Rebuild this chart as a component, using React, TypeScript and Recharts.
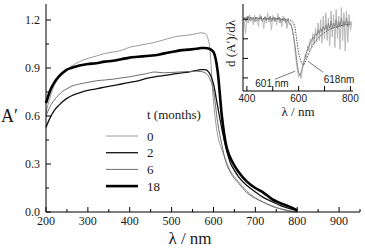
import { LineChart, Line, XAxis, YAxis, Legend, ReferenceLine, ReferenceDot } from "recharts";

// main spectra, A' vs wavelength (nm)
const wavelengths = [200, 210, 220, 230, 240, 250, 260, 280, 300, 320, 340, 360, 380, 400, 420, 440, 460, 480, 500, 520, 540, 560, 570, 580, 590, 600, 610, 620, 630, 640, 650, 660, 680, 700, 720, 740, 760, 780, 800];
const months0 = [0.62, 0.72, 0.79, 0.84, 0.87, 0.89, 0.91, 0.94, 0.96, 0.975, 0.99, 1.0, 1.01, 1.03, 1.04, 1.05, 1.06, 1.075, 1.09, 1.1, 1.105, 1.115, 1.12, 1.115, 1.05, 0.69, 0.48, 0.39, 0.32, 0.26, 0.22, 0.19, 0.13, 0.09, 0.06, 0.04, 0.02, 0.005, 0.0];
const months2 = [0.53, 0.59, 0.635, 0.665, 0.69, 0.71, 0.725, 0.745, 0.76, 0.77, 0.78, 0.79, 0.8, 0.81, 0.82, 0.835, 0.845, 0.852, 0.86, 0.868, 0.875, 0.885, 0.89, 0.89, 0.87, 0.8, 0.66, 0.52, 0.4, 0.31, 0.26, 0.22, 0.165, 0.125, 0.09, 0.065, 0.04, 0.022, 0.008];
const months6 = [0.6, 0.66, 0.7, 0.73, 0.755, 0.77, 0.785, 0.8, 0.81, 0.82, 0.825, 0.83, 0.838, 0.845, 0.855, 0.865, 0.875, 0.87, 0.872, 0.875, 0.878, 0.88, 0.878, 0.87, 0.84, 0.76, 0.56, 0.42, 0.31, 0.25, 0.21, 0.18, 0.12, 0.085, 0.06, 0.035, 0.02, 0.008, 0.0];
const months18 = [0.68, 0.76, 0.81, 0.845, 0.87, 0.89, 0.9, 0.915, 0.925, 0.93, 0.94, 0.945, 0.955, 0.965, 0.97, 0.975, 0.98, 0.99, 1.0, 1.01, 1.015, 1.02, 1.025, 1.025, 1.02, 1.0, 0.88, 0.6, 0.42, 0.34, 0.29, 0.25, 0.19, 0.15, 0.12, 0.08, 0.055, 0.035, 0.01];

const xTicks = [200, 250, 300, 350, 400, 450, 500, 550, 600, 650, 700, 750, 800, 850, 900, 950];
const yTicks = [0, 0.15, 0.3, 0.45, 0.6, 0.75, 0.9, 1.05, 1.2];

// inset: derivative d(A')/dλ, arbitrary units
const insetWavelengths = [390, 395, 400, 405, 410, 415, 420, 425, 430, 435, 440, 445, 450, 455, 460, 465, 470, 475, 480, 485, 490, 495, 500, 505, 510, 515, 520, 525, 530, 535, 540, 545, 550, 555, 560, 565, 570, 575, 580, 585, 590, 595, 600, 605, 610, 615, 620, 625, 630, 635, 640, 645, 650, 655, 660, 665, 670, 675, 680, 685, 690, 695, 700, 705, 710, 715, 720, 725, 730, 735, 740, 745, 750, 755, 760, 765, 770, 775, 780, 785, 790, 795, 800, 805];
const insetNoisyLight = [0.8, 0.66, 0.86, 0.78, 0.88, 0.8, 0.84, 0.76, 0.87, 0.79, 0.85, 0.74, 0.88, 0.81, 0.83, 0.72, 0.86, 0.78, 0.9, 0.79, 0.84, 0.7, 0.87, 0.8, 0.85, 0.76, 0.89, 0.78, 0.83, 0.74, 0.86, 0.8, 0.82, 0.72, 0.84, 0.76, 0.78, 0.7, 0.62, 0.5, 0.36, 0.24, 0.16, 0.2, 0.14, 0.26, 0.3, 0.42, 0.38, 0.52, 0.46, 0.6, 0.5, 0.66, 0.54, 0.72, 0.56, 0.78, 0.58, 0.82, 0.55, 0.86, 0.6, 0.9, 0.58, 0.84, 0.52, 0.92, 0.62, 0.88, 0.5, 0.94, 0.6, 0.86, 0.48, 0.96, 0.58, 0.9, 0.46, 0.92, 0.56, 0.88, 0.7, 0.78];
const insetNoisyDark = [0.84, 0.8, 0.83, 0.86, 0.81, 0.85, 0.82, 0.84, 0.8, 0.85, 0.83, 0.81, 0.84, 0.86, 0.8, 0.83, 0.85, 0.81, 0.84, 0.82, 0.86, 0.8, 0.83, 0.85, 0.8, 0.84, 0.82, 0.85, 0.79, 0.83, 0.81, 0.84, 0.78, 0.82, 0.8, 0.78, 0.76, 0.72, 0.64, 0.54, 0.42, 0.3, 0.21, 0.18, 0.22, 0.28, 0.34, 0.38, 0.44, 0.48, 0.52, 0.56, 0.58, 0.62, 0.6, 0.66, 0.64, 0.7, 0.66, 0.72, 0.68, 0.74, 0.7, 0.76, 0.7, 0.78, 0.72, 0.8, 0.72, 0.78, 0.74, 0.82, 0.72, 0.8, 0.74, 0.84, 0.74, 0.8, 0.76, 0.84, 0.74, 0.8, 0.78, 0.8];
const insetSmoothWavelengths = [390, 420, 450, 480, 510, 540, 560, 575, 585, 592, 600, 608, 614, 618, 625, 635, 650, 670, 690, 710, 730, 750, 770, 790, 805];
const insetSmooth = [0.84, 0.84, 0.835, 0.83, 0.83, 0.825, 0.82, 0.8, 0.74, 0.6, 0.44, 0.35, 0.31, 0.3, 0.33, 0.4, 0.5, 0.59, 0.65, 0.69, 0.72, 0.74, 0.755, 0.765, 0.77];
const insetXTicks = [400, 500, 600, 700, 800];
const insetYTicks = [0.15, 0.375, 0.6, 0.825];

const series = [
  { key: "m0", name: "0", color: "#9a9a9a", width: 1 },
  { key: "m2", name: "2", color: "#111111", width: 1.3 },
  { key: "m6", name: "6", color: "#6e6e6e", width: 1 },
  { key: "m18", name: "18", color: "#000000", width: 2.6 },
];

const mainData = wavelengths.map((l, i) => ({
  l,
  m0: months0[i],
  m2: months2[i],
  m6: months6[i],
  m18: months18[i],
}));
const insetData = insetWavelengths.map((l, i) => ({ l, a: insetNoisyLight[i], b: insetNoisyDark[i] }));
const insetSmoothData = insetSmoothWavelengths.map((l, i) => ({ l, s: insetSmooth[i] }));

const serif = "Liberation Serif, Times New Roman, serif";
const sans = "Liberation Sans, Arial, sans-serif";

const txt = (font: string, size: number) => ({ fontFamily: font, fontSize: size, fill: "#1a1a1a" });

type Side = "bottom" | "top" | "left" | "right";

// ticks drawn inward, optional label
const makeTick =
  (side: Side, isMajor: (v: number) => boolean, label?: (v: number) => string | null, font = serif, size = 12) =>
  (props: any) => {
    const { x, y, payload } = props;
    const v = payload.value;
    const len = isMajor(v) ? 5 : 3;
    const text = label ? label(v) : null;
    let line;
    if (side === "bottom") line = <line x1={x} x2={x} y1={y} y2={y - len} />;
    else if (side === "top") line = <line x1={x} x2={x} y1={y} y2={y + len} />;
    else if (side === "left") line = <line x1={x} x2={x + len} y1={y} y2={y} />;
    else line = <line x1={x} x2={x - len} y1={y} y2={y} />;
    return (
      <g>
        <g stroke="#000" strokeWidth={1}>{line}</g>
        {text !== null && side === "bottom" && (
          <text x={x} y={y + size + 1} textAnchor="middle" style={txt(font, size)}>
            {text}
          </text>
        )}
        {text !== null && side === "left" && (
          <text x={x - 6} y={y + 4} textAnchor="end" style={txt(font, size)}>
            {text}
          </text>
        )}
      </g>
    );
  };

const isHundred = (v: number) => v % 100 === 0;
const isY03 = (v: number) => Math.abs(Math.round(v / 0.3) * 0.3 - v) < 1e-6;

const renderLegend = () => (
  <svg width={115} height={95}>
    <text x={47} y={19} style={txt(serif, 13)}>
      t (months)
    </text>
    {series.map((s, i) => {
      const cy = 36 + i * 16.7;
      return (
        <g key={s.key}>
          <line x1={6} x2={38} y1={cy} y2={cy} stroke={s.color} strokeWidth={s.width} />
          <text x={47} y={cy + 4.5} style={txt(serif, 13)}>
            {s.name}
          </text>
        </g>
      );
    })}
  </svg>
);

const MainChart = () => (
  <LineChart width={365} height={248} data={mainData} margin={{ top: 4, right: 5, bottom: 0, left: 0 }}>
    <XAxis
      dataKey="l"
      type="number"
      domain={[200, 950]}
      ticks={xTicks}
      interval={0}
      height={36}
      tickSize={0}
      tickMargin={0}
      tickLine={false}
      axisLine={{ stroke: "#000" }}
      tick={makeTick("bottom", isHundred, (v) => (isHundred(v) && v < 950 ? String(v) : null))}
      label={(p: any) => (
        <text x={p.viewBox.x + p.viewBox.width / 2 - 13} y={p.viewBox.y + 32} textAnchor="middle" style={txt(serif, 17)}>
          λ / nm
        </text>
      )}
    />
    <XAxis
      xAxisId="top"
      orientation="top"
      dataKey="l"
      type="number"
      domain={[200, 950]}
      ticks={xTicks}
      interval={0}
      height={0}
      tickSize={0}
      tickMargin={0}
      tickLine={false}
      axisLine={{ stroke: "#000" }}
      tick={makeTick("top", isHundred)}
    />
    <YAxis
      type="number"
      domain={[0, 1.3]}
      ticks={yTicks}
      interval={0}
      width={46}
      tickSize={0}
      tickMargin={0}
      tickLine={false}
      axisLine={{ stroke: "#000" }}
      tick={makeTick("left", isY03, (v) => (isY03(v) ? v.toFixed(1) : null))}
      label={(p: any) => (
        <text x={p.viewBox.x + 1} y={122} style={txt(serif, 18)}>
          A′
        </text>
      )}
    />
    <YAxis
      yAxisId="right"
      orientation="right"
      type="number"
      domain={[0, 1.3]}
      ticks={yTicks}
      interval={0}
      width={0}
      tickSize={0}
      tickMargin={0}
      tickLine={false}
      axisLine={{ stroke: "#000" }}
      tick={makeTick("right", isY03)}
    />
    <Legend
      layout="vertical"
      align="center"
      verticalAlign="middle"
      content={renderLegend}
      wrapperStyle={{ left: 100, top: 100, width: 115, height: 95 }}
    />
    {series.map((s) => (
      <Line
        key={s.key}
        dataKey={s.key}
        name={s.name}
        type="monotone"
        stroke={s.color}
        strokeWidth={s.width}
        dot={false}
        isAnimationActive={false}
      />
    ))}
  </LineChart>
);

const InsetChart = () => (
  <LineChart width={140} height={120} data={insetData} margin={{ top: 4, right: 7, bottom: 0, left: 0 }}>
    <XAxis
      dataKey="l"
      type="number"
      domain={[385, 810]}
      ticks={insetXTicks}
      interval={0}
      height={29}
      tickSize={0}
      tickMargin={0}
      tickLine={false}
      axisLine={{ stroke: "#000" }}
      tick={makeTick("bottom", () => true, (v) => (v % 200 === 0 ? String(v) : null), sans, 10)}
      label={(p: any) => (
        <text x={p.viewBox.x + p.viewBox.width / 2} y={p.viewBox.y + 25} textAnchor="middle" style={txt(serif, 13)}>
          λ / nm
        </text>
      )}
    />
    <YAxis
      type="number"
      domain={[0, 1]}
      ticks={insetYTicks}
      interval={0}
      width={23}
      tickSize={0}
      tickMargin={0}
      tickLine={false}
      axisLine={{ stroke: "#000" }}
      tick={makeTick("left", () => true)}
      label={(p: any) => {
        const cx = p.viewBox.x + 15;
        const cy = p.viewBox.y + p.viewBox.height / 2 - 4;
        return (
          <text transform={`translate(${cx}, ${cy}) rotate(-90)`} textAnchor="middle" style={txt(serif, 13)}>
            d (A′)/dλ
          </text>
        );
      }}
    />
    <YAxis
      yAxisId="right"
      orientation="right"
      type="number"
      domain={[0, 1]}
      ticks={insetYTicks}
      interval={0}
      width={0}
      tickSize={0}
      tickMargin={0}
      tickLine={false}
      axisLine={{ stroke: "#000" }}
      tick={makeTick("right", () => true)}
    />
    <Line dataKey="a" type="linear" stroke="#b8b8b8" strokeWidth={1} dot={false} isAnimationActive={false} />
    <Line dataKey="b" type="linear" stroke="#8a8a8a" strokeWidth={1} dot={false} isAnimationActive={false} />
    <Line
      data={insetSmoothData}
      dataKey="s"
      type="monotone"
      stroke="#555"
      strokeWidth={1}
      strokeDasharray="1.5 1.2"
      dot={false}
      isAnimationActive={false}
    />
    <ReferenceLine segment={[{ x: 508, y: 0.135 }, { x: 586, y: 0.227 }]} stroke="#555" strokeWidth={0.8} ifOverflow="visible" />
    <ReferenceLine segment={[{ x: 694, y: 0.216 }, { x: 636, y: 0.342 }]} stroke="#555" strokeWidth={0.8} ifOverflow="visible" />
    <ReferenceDot x={497} y={0.089} r={0} ifOverflow="visible" label={{ value: "601 nm", position: "center", style: txt(sans, 10) }} />
    <ReferenceDot x={756} y={0.135} r={0} ifOverflow="visible" label={{ value: "618nm", position: "center", style: txt(sans, 10) }} />
  </LineChart>
);

const App = () => (
  <div style={{ position: "absolute", left: 0, top: 0, width: 365, height: 248, background: "#fff" }}>
    <div style={{ position: "absolute", left: 0, top: 0 }}>
      <MainChart />
    </div>
    <div style={{ position: "absolute", left: 220, top: 0 }}>
      <InsetChart />
    </div>
  </div>
);

export default App;
